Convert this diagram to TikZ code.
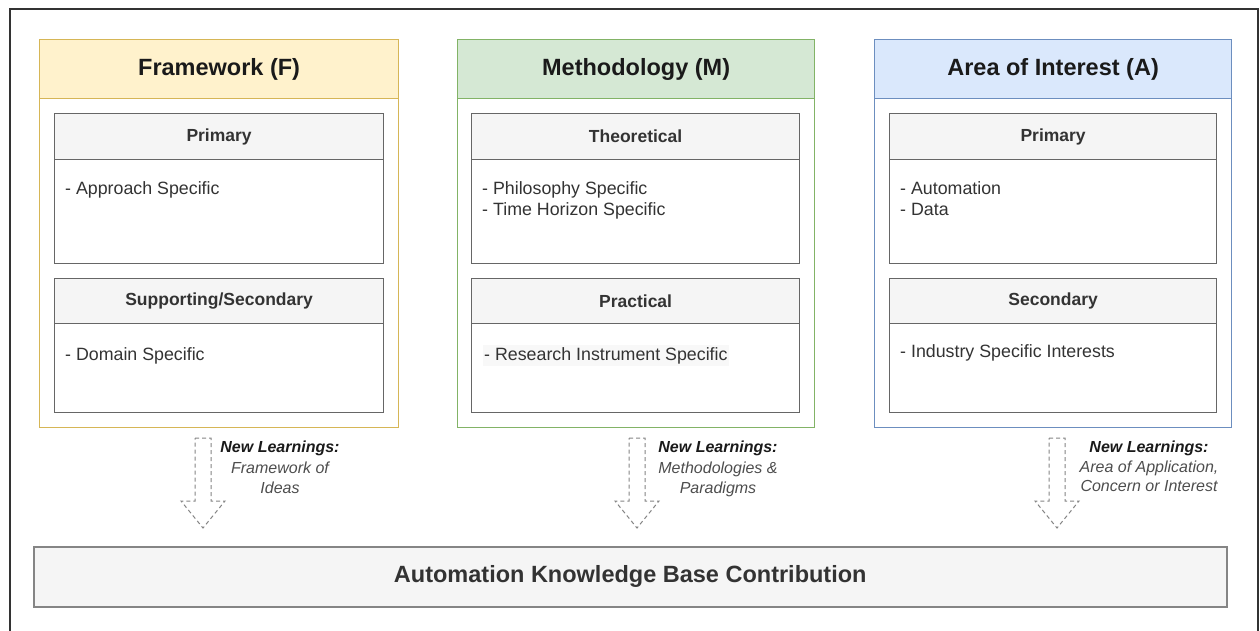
\documentclass[tikz,border=0pt]{standalone}
\usepackage{fontspec}
\setmainfont{Liberation Sans}
\definecolor{fyfill}{HTML}{FFF2CC}
\definecolor{fystroke}{HTML}{D6B656}
\definecolor{mgfill}{HTML}{D5E8D4}
\definecolor{mgstroke}{HTML}{82B366}
\definecolor{abfill}{HTML}{DAE8FC}
\definecolor{abstroke}{HTML}{6C8EBF}
\definecolor{subfill}{HTML}{F5F5F5}
\definecolor{substroke}{HTML}{666666}
\definecolor{txtdark}{HTML}{1A1A1A}
\definecolor{txtgray}{HTML}{333333}
\definecolor{txtlight}{HTML}{4D4D4D}
\definecolor{hlfill}{HTML}{F8F8F8}
\begin{document}
\begin{tikzpicture}[x=1pt,y=-1pt,
  colbox/.style={draw=#1, line width=1.2pt, fill=white, anchor=north west, inner sep=0pt,
    minimum width=359pt, minimum height=388pt},
  colhead/.style 2 args={draw=#1, fill=#2, line width=1.2pt, anchor=north west, inner sep=0pt,
    minimum width=359pt, minimum height=59pt, text=txtdark,
    font=\fontsize{23.5}{28}\selectfont\bfseries},
  subhead/.style={draw=substroke, fill=subfill, line width=1.2pt, anchor=north west, inner sep=0pt,
    minimum width=329pt, minimum height=46pt, text=txtgray,
    font=\fontsize{17.5}{21}\selectfont\bfseries},
  subbody/.style={draw=substroke, fill=white, line width=1.2pt, anchor=north west, inner sep=0pt,
    minimum width=329pt, minimum height=#1},
  bodytext/.style={anchor=north west, inner sep=0pt, align=left, text=txtgray,
    font=\fontsize{17.8}{21}\selectfont},
  hollow/.style={draw=substroke!80, line width=1pt, dash pattern=on 4pt off 3pt, fill=white},
  arrowlabel/.style={anchor=north, inner sep=0pt, align=center, text=txtlight,
    font=\fontsize{16}{20.5}\selectfont\itshape},
  bottombox/.style={draw=substroke!80, fill=subfill, line width=1.5pt, anchor=north west, inner sep=0pt,
    minimum width=1193pt, minimum height=60pt, text=txtgray,
    font=\fontsize{23.5}{28}\selectfont\bfseries},
  frame/.style={draw=txtgray, line width=1.3pt}
]
\useasboundingbox (0,0) rectangle (1260,631);
\draw[frame] (10,631) -- (10,9) -- (1258,9) -- (1258,631);

% ---------- Framework ----------
\node[colbox=fystroke] (F) at (39,39) {};
\node[colhead={fystroke}{fyfill}] (Fh) at (39,39) {Framework (F)};
\node[subbody=104pt] (F1b) at (54,159) {};
\node[subhead] (F1h) at (54,113) {Primary};
\node[bodytext] (F1t) at (65,181) {- Approach Specific};
\node[subbody=89pt] (F2b) at (54,323) {};
\node[subhead, minimum height=45pt] (F2h) at (54,278) {Supporting/Secondary};
\node[bodytext] (F2t) at (65,347) {- Domain Specific};

% ---------- Methodology ----------
\node[colbox=mgstroke, minimum width=357pt] (M) at (457,39) {};
\node[colhead={mgstroke}{mgfill}, minimum width=357pt] (Mh) at (457,39) {Methodology (M)};
\node[subbody=104pt, minimum width=328pt] (M1b) at (471,159) {};
\node[subhead, minimum width=328pt] (M1h) at (471,113) {Theoretical};
\node[bodytext] (M1t) at (482,181) {- Philosophy Specific\\- Time Horizon Specific};
\node[subbody=89pt, minimum width=328pt] (M2b) at (471,323) {};
\node[subhead, minimum height=45pt, minimum width=328pt] (M2h) at (471,278) {Practical};
\node[bodytext, fill=hlfill, inner xsep=1pt, inner ysep=2pt] (M2t) at (483,345) {- Research Instrument Specific};

% ---------- Area of Interest ----------
\node[colbox=abstroke, minimum width=357pt] (A) at (874,39) {};
\node[colhead={abstroke}{abfill}, minimum width=357pt] (Ah) at (874,39) {Area of Interest (A)};
\node[subbody=104pt, minimum width=327pt] (A1b) at (889,159) {};
\node[subhead, minimum width=327pt] (A1h) at (889,113) {Primary};
\node[bodytext] (A1t) at (900,181) {- Automation\\- Data};
\node[subbody=89pt, minimum width=327pt] (A2b) at (889,323) {};
\node[subhead, minimum height=45pt, minimum width=327pt] (A2h) at (889,278) {Secondary};
\node[bodytext] (A2t) at (900,344) {- Industry Specific Interests};

% ---------- Hollow dashed arrows ----------
\foreach \cx/\nm in {203/af, 637/am, 1057/aa}{
  \coordinate (\nm) at (\cx,438);
  \draw[hollow] ([xshift=-8pt]\nm) -- ([xshift=8pt]\nm) -- ([xshift=8pt,yshift=-63pt]\nm)
    -- ([xshift=22pt,yshift=-63pt]\nm) -- ([yshift=-90pt]\nm) -- ([xshift=-22pt,yshift=-63pt]\nm)
    -- ([xshift=-8pt,yshift=-63pt]\nm) -- cycle;
}

\node[arrowlabel] (Lf) at (280,441) {{\bfseries\color{txtdark}New Learnings:}\\Framework of\\Ideas};
\node[arrowlabel] (Lm) at (718,441) {{\bfseries\color{txtdark}New Learnings:}\\Methodologies \&\\Paradigms};
\node[arrowlabel, font=\fontsize{16}{19.5}\selectfont\itshape] (La) at (1149,441) {{\bfseries\color{txtdark}New Learnings:}\\Area of Application,\\Concern or Interest};

% ---------- Bottom ----------
\node[bottombox] (K) at (33,546) {Automation Knowledge Base Contribution};
\end{tikzpicture}
\end{document}
